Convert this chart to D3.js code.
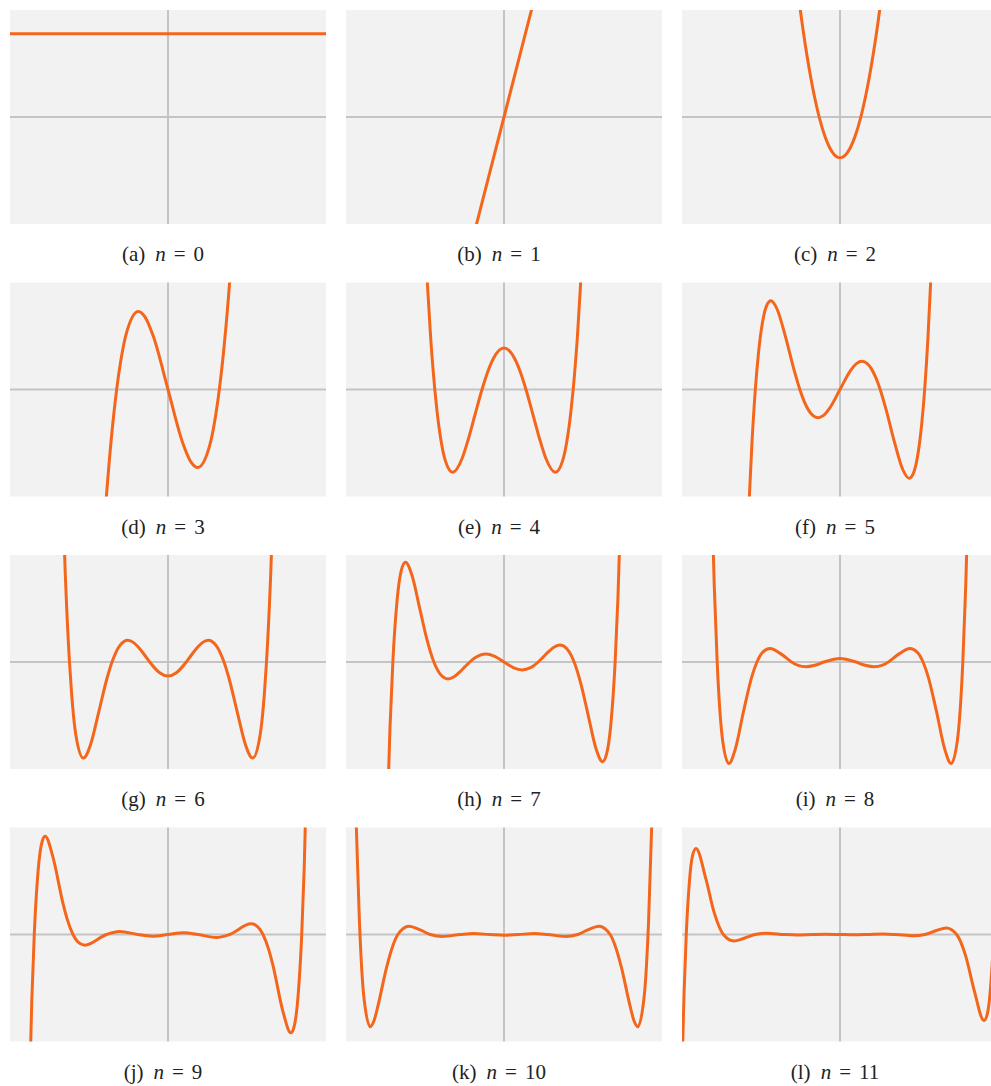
<!DOCTYPE html>
<html>
<head>
<meta charset="utf-8">
<script src="https://cdn.jsdelivr.net/npm/d3@7"></script>
<style>
  html, body { margin: 0; padding: 0; background: #ffffff; overflow: hidden; }
  svg { display: block; }
</style>
</head>
<body>
<svg id="chart" width="991" height="1086"></svg>
<script>
// ---- data ----
const panelLetters = ["a", "b", "c", "d", "e", "f", "g", "h", "i", "j", "k", "l"];
const panelOrders = [0, 1, 2, 3, 4, 5, 6, 7, 8, 9, 10, 11];
// half-width of the x window and half-height of the y window of each panel
const xHalfRange = [3.77, 3.77, 5.36, 3.77, 3.77, 3.77, 3.77, 3.77, 3.77, 3.77, 3.77, 3.77];
const yHalfRange = [1.284, 1.31, 5.26, 7.76, 31, 156, 920, 6444, 51063, 465840, 4726000, 51680000];

const curve0 = [[-3.77, 1], [3.77, 1]];
const curve1 = [[-1, -2], [1, 2]];
const curve2 = [[-1.45, 6.41], [-1.25, 4.25], [-1.0, 2], [-0.7071, 0], [-0.5, -1], [-0.35, -1.51], [-0.2, -1.84], [0, -2],
                [0.2, -1.84], [0.35, -1.51], [0.5, -1], [0.7071, 0], [1.0, 2], [1.25, 4.25], [1.45, 6.41]];
const curve3 = [[-1.55, -11.19], [-1.47, -7.77], [-1.35, -3.48], [-1.2247, 0], [-1.1, 2.552], [-1.0, 4], [-0.7071, 5.657], [-0.55, 5.269],
                [-0.35, 3.857], [0, 0], [0.35, -3.857], [0.55, -5.269], [0.7071, -5.657], [1.0, -4], [1.1, -2.552], [1.2247, 0],
                [1.35, 3.48], [1.47, 7.77], [1.55, 11.19]];
const curve4 = [[-1.9, 47.2], [-1.85, 35.1], [-1.75, 15.06], [-1.6507, 0], [-1.6, -6.02], [-1.5, -15], [-1.4, -20.61], [-1.2247, -24],
                [-1.0, -20], [-0.85, -14.33], [-0.7, -7.68], [-0.5246, 0], [-0.4, 4.73], [-0.25, 9.06], [0, 12],
                [0.25, 9.06], [0.4, 4.73], [0.5246, 0], [0.7, -7.68], [0.85, -14.33], [1.0, -20], [1.2247, -24], [1.4, -20.61],
                [1.5, -15], [1.6, -6.02], [1.6507, 0], [1.75, 15.06], [1.85, 35.1], [1.9, 47.2]];
const curve5 = [[-2.25, -292.8], [-2.17, -165.2], [-2.1, -77.1], [-2.0202, 0], [-1.95, 50.2], [-1.85, 97.7], [-1.75, 122.3],
                [-1.6507, 129.4], [-1.5, 117], [-1.3, 76.7], [-1.1, 29.4], [-0.9586, 0], [-0.85, -17.94], [-0.75, -30.09],
                [-0.65, -37.77], [-0.5247, -41.1], [-0.4, -38.09], [-0.25, -27.53], [0, 0], [0.25, 27.53], [0.4, 38.09],
                [0.5247, 41.1], [0.65, 37.77], [0.75, 30.09], [0.85, 17.94], [0.9586, 0], [1.1, -29.4], [1.3, -76.7], [1.5, -117],
                [1.6507, -129.4], [1.75, -122.3], [1.85, -97.7], [1.95, -50.2], [2.0202, 0], [2.1, 77.1], [2.17, 165.2], [2.25, 292.8]];
const curve6 = [[-2.52, 1485.3], [-2.45, 748.4], [-2.3506, 0], [-2.3, -269.3], [-2.2, -623.2], [-2.0202, -825.7], [-1.85, -712.6],
                [-1.65, -426.1], [-1.45, -133.2], [-1.3358, 0], [-1.25, 77.26], [-1.15, 140.7], [-0.9586, 186], [-0.82, 166.57],
                [-0.7, 125.1], [-0.55, 55.65], [-0.4361, 0], [-0.3, -59.04], [-0.2, -91.96], [0, -120], [0.2, -91.96], [0.3, -59.04],
                [0.4361, 0], [0.55, 55.65], [0.7, 125.1], [0.82, 166.57], [0.9586, 186], [1.15, 140.7], [1.25, 77.26], [1.3358, 0],
                [1.45, -133.2], [1.65, -426.1], [1.85, -712.6], [2.0202, -825.7], [2.2, -623.2], [2.3, -269.3], [2.3506, 0],
                [2.45, 748.4], [2.52, 1485.3]];
const curve7 = [[-2.8, -10457], [-2.72, -3938], [-2.652, 0], [-2.55, 3741], [-2.45, 5520.8], [-2.3506, 6003], [-2.2, 5255.7],
                [-2.0, 3104], [-1.85, 1465.1], [-1.6735, 0], [-1.6, -417.7], [-1.5, -801], [-1.3358, -1019.6], [-1.2, -904.4],
                [-1.05, -590.4], [-0.93, -282.2], [-0.8162, 0], [-0.7, 238.9], [-0.62, 359.4], [-0.4361, 474.7], [-0.22, 334.5], [0, 0],
                [0.22, -334.5], [0.4361, -474.7], [0.62, -359.4], [0.7, -238.9], [0.8162, 0], [0.93, 282.2], [1.05, 590.4],
                [1.2, 904.4], [1.3358, 1019.6], [1.5, 801], [1.6, 417.7], [1.6735, 0], [1.85, -1465.1], [2.0, -3104], [2.2, -5255.7],
                [2.3506, -6003], [2.45, -5520.8], [2.55, -3741], [2.652, 0], [2.72, 3938], [2.8, 10457]];
const curve8 = [[-3.05, 71631], [-3.0, 36240], [-2.9306, 0], [-2.8, -37518], [-2.652, -48518], [-2.5, -41695], [-2.3, -23398],
                [-2.1, -6767], [-1.9816, 0], [-1.85, 4554.9], [-1.6735, 6476], [-1.4, 3760.8], [-1.1572, 0], [-1.0, -1648],
                [-0.8162, -2318], [-0.6, -1579.5], [-0.3812, 0], [0, 1680], [0.3812, 0], [0.6, -1579.5], [0.8162, -2318],
                [1.0, -1648], [1.1572, 0], [1.4, 3760.8], [1.6735, 6476], [1.85, 4554.9], [1.9816, 0], [2.1, -6767],
                [2.3, -23398], [2.5, -41695], [2.652, -48518], [2.8, -37518], [2.9306, 0], [3.0, 36240], [3.05, 71631]];
const curve9 = [[-3.32, -783153], [-3.25, -289468], [-3.191, 0], [-3.1, 275550], [-3.0, 406944], [-2.9306, 428048], [-2.75, 340381],
                [-2.5, 131275], [-2.4, 63843], [-2.2666, 0], [-2.1, -39536], [-1.9816, -46278], [-1.4686, 0], [-1.1572, 13269],
                [-0.7236, 0], [-0.3811, -7439], [0, 0], [0.3811, 7439], [0.7236, 0], [1.1572, -13269], [1.4686, 0],
                [1.9816, 46278], [2.1, 39536], [2.2666, 0], [2.4, -63843], [2.5, -131275], [2.75, -340381], [2.9306, -428048],
                [3.0, -406944], [3.1, -275550], [3.191, 0], [3.25, 289468], [3.32, 783153]];
const curve10 = [[-3.56, 7757662], [-3.52, 4536229], [-3.45, 600288], [-3.4362, 0], [-3.35, -2639328], [-3.191, -4078260],
                 [-3.1, -3802134], [-3.0, -3093984], [-2.8, -1438194], [-2.65, -481375], [-2.5327, 0], [-2.2666, 365058],
                 [-2.0, 200416], [-1.7567, 0], [-1.4686, -86292], [-1.0366, 0], [-0.7236, 39019], [-0.3429, 0], [0, -30240],
                 [0.3429, 0], [0.7236, 39019], [1.0366, 0], [1.4686, -86292], [1.7567, 0], [2.0, 200416], [2.2666, 365058],
                 [2.5327, 0], [2.65, -481375], [2.8, -1438194], [3.0, -3093984], [3.1, -3802134], [3.191, -4078260],
                 [3.35, -2639328], [3.4362, 0], [3.45, 600288], [3.52, 4536229], [3.56, 7757662]];
const curve11 = [[-3.77, -65414132], [-3.72, -27852809], [-3.6684, 0], [-3.6, 23769081], [-3.52, 37931628], [-3.4362, 41535960],
                 [-3.2, 26832354], [-3.0, 10425024], [-2.7832, 0], [-2.5327, -3130440], [-2.3, -1922108], [-2.0259, 0],
                 [-1.7567, 623640], [-1.3265, 0], [-1.0366, -234216], [-0.6568, 0], [-0.3429, 146848], [0, 0],
                 [0.3429, -146848], [0.6568, 0], [1.0366, 234216], [1.3265, 0], [1.7567, -623640], [2.0259, 0],
                 [2.3, 1922108], [2.5327, 3130440], [2.7832, 0], [3.0, -10425024], [3.2, -26832354], [3.4362, -41535960],
                 [3.52, -37931628], [3.6, -23769081], [3.6684, 0], [3.72, 27852809], [3.77, 65414132]];

const curves = [curve0, curve1, curve2, curve3, curve4, curve5, curve6, curve7, curve8, curve9, curve10, curve11];

// ---- layout ----
const colLeft = [10, 346, 682];
const rowTop = [10, 282.5, 555, 827.5];
const panelW = 316, panelH = 214;

const svg = d3.select("#chart");

panelOrders.forEach((n, i) => {
  const col = i % 3, row = Math.floor(i / 3);
  const g = svg.append("g").attr("transform", `translate(${colLeft[col]},${rowTop[row]})`);

  const x = d3.scaleLinear().domain([-xHalfRange[i], xHalfRange[i]]).range([0, panelW]);
  const y = d3.scaleLinear().domain([-yHalfRange[i], yHalfRange[i]]).range([panelH, 0]);

  const clipId = `clip-${i}`;
  g.append("clipPath").attr("id", clipId)
    .append("rect").attr("width", panelW).attr("height", panelH);

  g.append("rect").attr("width", panelW).attr("height", panelH).attr("fill", "#f2f2f2");

  g.append("line")
    .attr("x1", 0).attr("x2", panelW).attr("y1", y(0)).attr("y2", y(0))
    .attr("stroke", "#c4c4c4").attr("stroke-width", 2);
  g.append("line")
    .attr("x1", x(0)).attr("x2", x(0)).attr("y1", 0).attr("y2", panelH)
    .attr("stroke", "#c4c4c4").attr("stroke-width", 2);

  const line = d3.line()
    .x(d => x(d[0]))
    .y(d => y(d[1]))
    .curve(d3.curveMonotoneX);

  g.append("path")
    .attr("clip-path", `url(#${clipId})`)
    .attr("d", line(curves[i]))
    .attr("fill", "none")
    .attr("stroke", "#f4661b")
    .attr("stroke-width", 3)
    .attr("stroke-linejoin", "round")
    .attr("stroke-linecap", "round");

  const label = g.append("text")
    .attr("x", panelW / 2 - 5)
    .attr("y", 251)
    .attr("text-anchor", "middle")
    .attr("font-family", "'Liberation Serif', 'DejaVu Serif', serif")
    .attr("font-size", 21)
    .attr("fill", "#222");
  label.append("tspan").text(`(${panelLetters[i]})`);
  label.append("tspan").attr("dx", 10).attr("font-style", "italic").text("n");
  label.append("tspan").attr("dx", 8).text("=");
  label.append("tspan").attr("dx", 8).text(String(n));
});
</script>
</body>
</html>
